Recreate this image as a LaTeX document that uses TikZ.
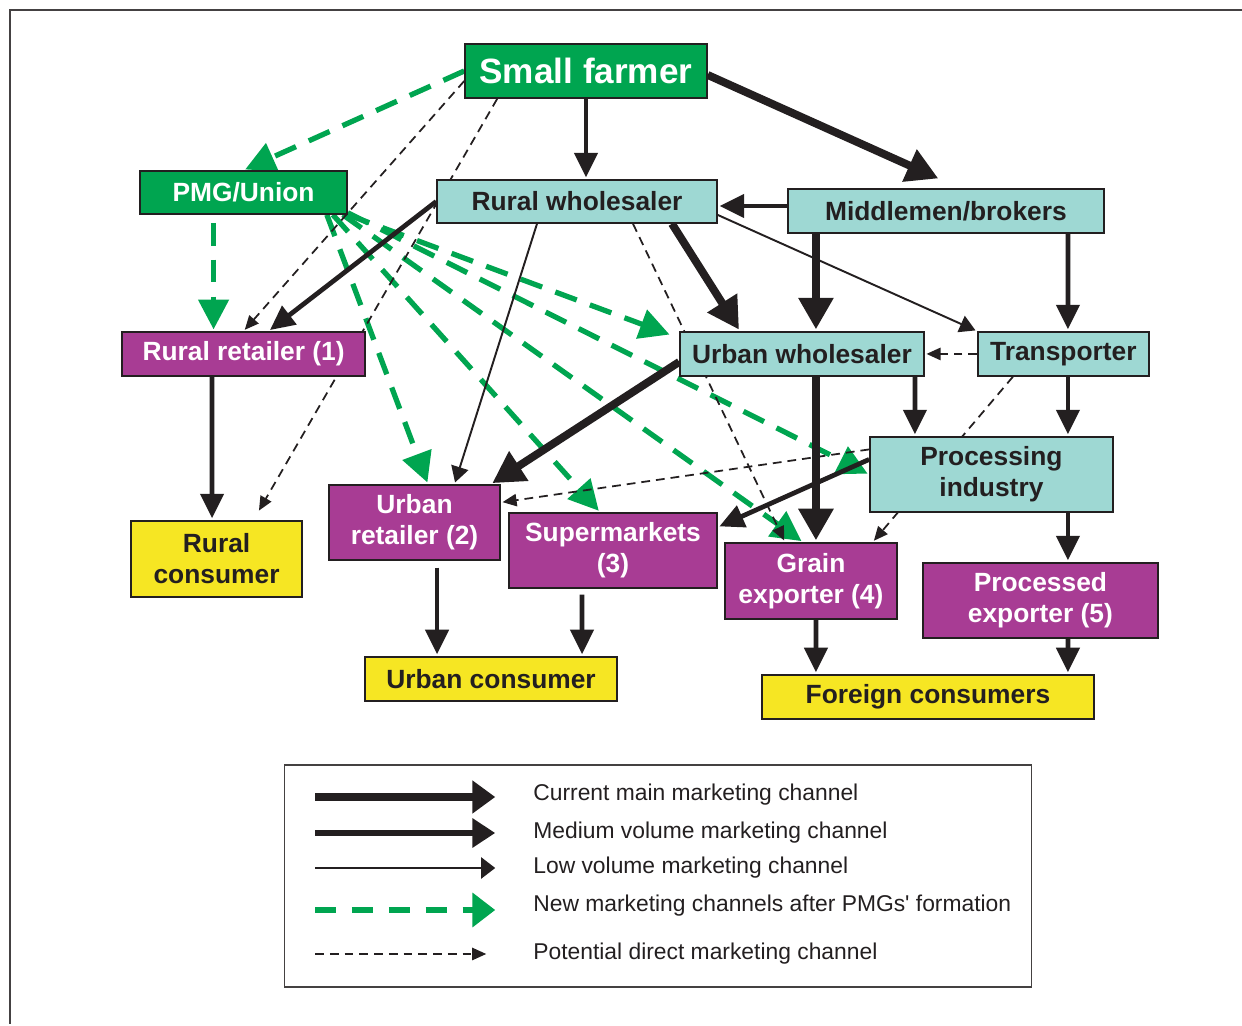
\documentclass[tikz,border=0pt]{standalone}
\usepackage{fontspec}
\setmainfont{Liberation Sans}
\usetikzlibrary{arrows.meta,positioning}

\definecolor{pmggreen}{RGB}{0,165,80}
\definecolor{boxcyan}{RGB}{158,216,211}
\definecolor{boxpurple}{RGB}{168,60,148}
\definecolor{boxyellow}{RGB}{246,230,35}
\definecolor{ink}{RGB}{35,31,32}

\pgfdeclarelayer{background}
\pgfsetlayers{background,main}

\tikzset{
  box/.style={draw=ink, line width=0.9pt, inner sep=0pt, align=center,
    font=\fontsize{15}{17.5}\selectfont\bfseries},
  green box/.style={box, fill=pmggreen, text=white},
  cyan box/.style={box, fill=boxcyan, text=ink},
  purple box/.style={box, fill=boxpurple, text=white},
  yellow box/.style={box, fill=boxyellow, text=ink},
  mainch/.style={draw=ink, line width=4.5pt, -{Triangle[length=18pt,width=19pt]}},
  medch/.style={draw=ink, line width=2.7pt, -{Triangle[length=14pt,width=13pt]}},
  lowch/.style={draw=ink, line width=1.1pt, -{Triangle[length=9pt,width=10pt]}},
  newch/.style={draw=pmggreen, line width=3pt, dash pattern=on 13pt off 8pt, -{Triangle[length=17pt,width=17pt]}},
  potch/.style={draw=ink, line width=1pt, dash pattern=on 5pt off 3.4pt, -{Triangle[length=8pt,width=7pt]}},
  legtext/.style={anchor=west, inner sep=0pt, text=ink, font=\fontsize{13}{15}\selectfont}
}

\begin{document}
\begin{tikzpicture}[x=0.02cm, y=-0.02cm, shorten >=1pt, on grid]
\useasboundingbox (0,0) rectangle (1242,1026);
\draw[ink!85, line width=0.6pt] (1242,10) -- (10,10) -- (10,1026);

% actors
\node[green box, minimum width=4.84cm, minimum height=1.08cm, font=\fontsize{20}{24}\selectfont\bfseries] (farmer) at (586,71) {Small farmer};
\node[green box, minimum width=4.14cm, minimum height=0.86cm] (pmg) [below left=2.43cm and 6.85cm of farmer] {PMG/Union};
\node[cyan box, minimum width=5.6cm, minimum height=0.86cm] (rw) [below left=2.61cm and 0.18cm of farmer] {Rural wholesaler};
\node[cyan box, minimum width=6.32cm, minimum height=0.88cm] (mb) [below right=0.19cm and 7.38cm of rw] {Middlemen/brokers};
\node[purple box, minimum width=4.86cm, minimum height=0.88cm] (rr) [below=3.23cm of pmg] {Rural retailer (1)};
\node[cyan box, minimum width=4.88cm, minimum height=0.88cm] (uw) [below left=2.86cm and 2.88cm of mb] {Urban wholesaler};
\node[cyan box, minimum width=3.42cm, minimum height=0.88cm] (tr) [right=5.23cm of uw] {Transporter};
\node[cyan box, minimum width=4.86cm, minimum height=1.5cm] (pi) [below left=2.41cm and 1.44cm of tr] {Processing\\industry};
\node[yellow box, minimum width=3.42cm, minimum height=1.52cm] (rc) [below left=4.1cm and 0.54cm of rr] {Rural\\consumer};
\node[purple box, minimum width=3.42cm, minimum height=1.5cm] (ur) [below right=3.37cm and 3.42cm of rr] {Urban\\retailer (2)};
\node[purple box, minimum width=4.16cm, minimum height=1.5cm] (sm) [below right=0.56cm and 3.97cm of ur] {Supermarkets\\(3)};
\node[purple box, minimum width=3.44cm, minimum height=1.52cm] (ge) [below right=4.54cm and 0.18cm of uw] {Grain\\exporter (4)};
\node[purple box, minimum width=4.7cm, minimum height=1.5cm] (pe) [below right=2.52cm and 0.98cm of pi] {Processed\\exporter (5)};
\node[yellow box, minimum width=5.04cm, minimum height=0.88cm] (uc) [below right=3.13cm and 1.53cm of ur] {Urban consumer};
\node[yellow box, minimum width=6.64cm, minimum height=0.88cm] (fc) [below right=2.32cm and 2.34cm of ge] {Foreign consumers};

\begin{pgfonlayer}{background}
% channels after PMGs
\path (farmer.west) edge[newch] (pmg.north)
      ([xshift=-0.6cm, yshift=-0.16cm]pmg.south) edge[newch] ([xshift=-0.6cm]rr.north)
      ([xshift=-0.42cm]pmg.south east) edge[newch] ([xshift=0.27cm]ur.north)
      ([xshift=-0.3cm]pmg.south east) edge[newch] ([xshift=-0.26cm]sm.north)
      (pmg.south east) edge[newch] ([xshift=-0.16cm, yshift=-0.08cm]uw.north west)
      ([xshift=-0.1cm]pmg.south east) edge[newch] ([xshift=-0.16cm]ge.north)
      ([yshift=0.04cm]pmg.south east) edge[newch] (pi.west);

% current channels
\path (farmer.south) edge[medch] (farmer.south |- rw.north)
      ([yshift=-0.08cm]farmer.east) edge[mainch] ([xshift=-0.12cm, yshift=0.18cm]mb.north)
      (rw.west) edge[medch] ([xshift=0.5cm]rr.north)
      ([xshift=-0.8cm]rw.south) edge[lowch] ([xshift=0.8cm]ur.north)
      ([xshift=1.9cm]rw.south) edge[mainch] ([xshift=-1.24cm]uw.north)
      ([yshift=-0.27cm]rw.east) edge[lowch] (tr.north west)
      ([yshift=0.1cm]mb.west) edge[medch] ([yshift=0.1cm]mb.west -| rw.east)
      ([xshift=-2.6cm]mb.south) edge[mainch] ([xshift=0.28cm]uw.north)
      ([xshift=2.44cm]mb.south) edge[medch] ([xshift=0.09cm]tr.north)
      ([xshift=0.09cm]tr.south) edge[medch] ([xshift=1.53cm]pi.north)
      ([xshift=2.26cm]uw.south) edge[medch] ([xshift=-1.53cm]pi.north)
      ([xshift=0.28cm]uw.south) edge[mainch] ([xshift=0.1cm]ge.north)
      ([yshift=-0.16cm]uw.west) edge[mainch] ([xshift=-0.2cm]ur.north east)
      ([yshift=0.3cm]pi.west) edge[medch] ([yshift=-0.3cm]sm.north east)
      ([xshift=1.53cm]pi.south) edge[medch] ([xshift=0.55cm]pe.north)
      ([xshift=-0.63cm]rr.south) edge[medch] ([xshift=-0.09cm]rc.north)
      ([xshift=0.45cm, yshift=-0.14cm]ur.south) edge[medch] ([xshift=-1.08cm]uc.north)
      ([xshift=-0.62cm, yshift=-0.12cm]sm.south) edge[medch] ([xshift=1.82cm]uc.north)
      ([xshift=0.1cm]ge.south) edge[medch] ([xshift=-2.24cm]fc.north)
      ([xshift=0.55cm]pe.south) edge[medch] ([xshift=2.8cm]fc.north);

% potential direct channels
\path ([yshift=-0.2cm]farmer.west) edge[potch] (rr.north)
      ([xshift=0.66cm]farmer.south west) edge[potch] ([xshift=0.83cm, yshift=0.16cm]rc.north)
      ([xshift=1.12cm]rw.south) edge[potch] ([xshift=-0.52cm]ge.north)
      (tr.west) edge[potch] (uw.east)
      ([yshift=0.5cm]pi.west) edge[potch] ([yshift=0.4cm]ur.east)
      ([xshift=-1.01cm]tr.south) edge[potch] ([xshift=-0.5cm]ge.north east);
\end{pgfonlayer}

% legend
\node[draw=ink!85, line width=0.6pt, minimum width=14.96cm, minimum height=4.44cm] (legend) at (658,876) {};
\node[legtext] (l1) at (533,795) {Current main marketing channel};
\node[legtext] (l2) at (533,833) {Medium volume marketing channel};
\node[legtext] (l3) at (533,868) {Low volume marketing channel};
\node[legtext] (l4) at (533,906) {New marketing channels after PMGs\textquotesingle{} formation};
\node[legtext] (l5) at (533,954) {Potential direct marketing channel};
\coordinate (k1) at (315,797);
\coordinate (k2) at (315,833);
\coordinate (k3) at (315,868);
\coordinate (k4) at (315,910);
\coordinate (k5) at (315,954);
\draw[mainch, -{Triangle[length=13pt,width=18pt]}] (k1) -- (k1 -| 497,0);
\draw[medch, line width=3.6pt, -{Triangle[length=13pt,width=16pt]}] (k2) -- (k2 -| 497,0);
\draw[lowch, -{Triangle[length=8pt,width=12pt]}] (k3) -- (k3 -| 497,0);
\draw[newch, line width=3.8pt, dash pattern=on 12pt off 9pt, -{Triangle[length=13pt,width=19pt]}] (k4) -- (k4 -| 497,0);
\draw[potch] (k5) -- (k5 -| 488,0);
\end{tikzpicture}
\end{document}
